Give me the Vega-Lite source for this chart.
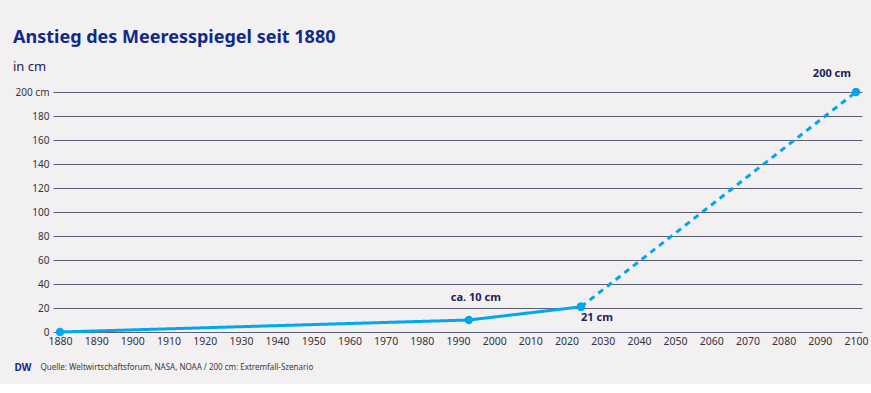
{
  "$schema": "https://vega.github.io/schema/vega-lite/v6.json",
  "width": 809,
  "height": 240,
  "autosize": {"type": "none"},
  "padding": {"left": 53, "top": 92, "right": 9, "bottom": 52},
  "background": "#f2f0f1",
  "title": {
    "text": "Anstieg des Meeresspiegel seit 1880",
    "subtitle": "in cm",
    "anchor": "start",
    "frame": "group",
    "dx": -40,
    "dy": 18,
    "fontSize": 18,
    "fontWeight": "bold",
    "color": "#0f2a87",
    "subtitleFontSize": 13,
    "subtitleColor": "#1c2258",
    "subtitlePadding": 14,
    "offset": 12
  },
  "data": {
    "values": [
      {"year": 1880, "cm": 0, "seg": "gemessen"},
      {"year": 1993, "cm": 10, "seg": "gemessen"},
      {"year": 2024, "cm": 21, "seg": "gemessen"},
      {"year": 2024, "cm": 21, "seg": "Prognose"},
      {"year": 2100, "cm": 200, "seg": "Prognose"}
    ]
  },
  "encoding": {
    "x": {
      "field": "year",
      "type": "quantitative",
      "scale": {"domain": [1878.07, 2101.66], "nice": false, "zero": false},
      "axis": {
        "values": [1880, 1890, 1900, 1910, 1920, 1930, 1940, 1950, 1960, 1970, 1980, 1990, 2000, 2010, 2020, 2030, 2040, 2050, 2060, 2070, 2080, 2090, 2100],
        "format": "d",
        "grid": false,
        "domain": false,
        "ticks": false,
        "labelPadding": 4,
        "labelFontSize": 10.5,
        "labelColor": "#333340",
        "title": "Quelle: Weltwirtschaftsforum, NASA, NOAA / 200 cm: Extremfall-Szenario",
        "titleX": -13,
        "titleY": 35,
        "titleAlign": "left",
        "titleBaseline": "middle",
        "titleFontSize": 8,
        "titleFontWeight": "normal",
        "titleColor": "#3a3a48"
      }
    },
    "y": {
      "field": "cm",
      "type": "quantitative",
      "scale": {"domain": [0, 200], "nice": false},
      "axis": {
        "values": [0, 20, 40, 60, 80, 100, 120, 140, 160, 180, 200],
        "labelExpr": "datum.value == 200 ? '200 cm' : datum.label",
        "grid": true,
        "gridColor": "#5b5e70",
        "gridWidth": 1,
        "gridOpacity": 1,
        "domain": false,
        "ticks": false,
        "labelPadding": 4,
        "labelFontSize": 10,
        "labelColor": "#333340",
        "title": "DW",
        "titleAngle": 0,
        "titleX": -39,
        "titleY": 275,
        "titleAlign": "left",
        "titleBaseline": "middle",
        "titleFontSize": 10,
        "titleFontWeight": "bold",
        "titleColor": "#0f2a87"
      }
    }
  },
  "layer": [
    {
      "mark": {"type": "line", "strokeWidth": 3, "color": "#00a6f0"},
      "encoding": {
        "detail": {"field": "seg"},
        "strokeDash": {
          "field": "seg",
          "type": "nominal",
          "scale": {"domain": ["gemessen", "Prognose"], "range": [[1, 0], [6, 5]]},
          "legend": null
        }
      }
    },
    {
      "mark": {"type": "point", "filled": true, "size": 70, "color": "#00a6f0", "opacity": 1}
    },
    {
      "transform": [{"filter": "datum.year == 1993"}],
      "mark": {"type": "text", "text": "ca. 10 cm", "fontWeight": "bold", "fontSize": 11, "color": "#1c2258", "dx": 7, "dy": -22, "align": "center", "baseline": "middle"}
    },
    {
      "transform": [{"filter": "datum.year == 2024 && datum.seg == 'gemessen'"}],
      "mark": {"type": "text", "text": "21 cm", "fontWeight": "bold", "fontSize": 11, "color": "#1c2258", "dx": 0, "dy": 11, "align": "left", "baseline": "middle"}
    },
    {
      "transform": [{"filter": "datum.year == 2100"}],
      "mark": {"type": "text", "text": "200 cm", "fontWeight": "bold", "fontSize": 11, "color": "#1c2258", "dx": -5, "dy": -18, "align": "right", "baseline": "middle"}
    }
  ],
  "config": {
    "font": "Noto Sans",
    "view": {"stroke": null}
  }
}
